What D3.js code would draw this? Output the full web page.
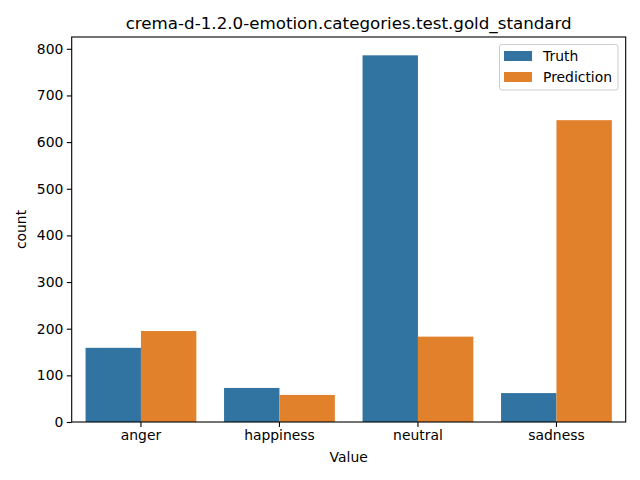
<!DOCTYPE html>
<html><head><meta charset="utf-8">
<script src="https://cdn.jsdelivr.net/npm/d3@7"></script>
<style>body{margin:0;background:#fff}svg{display:block;font-family:"DejaVu Sans",sans-serif}</style>
</head><body><svg id="c" width="640" height="480"></svg>
<script>
const categories = ["anger","happiness","neutral","sadness"];
const seriesNames = ["Truth","Prediction"];
const truthValues = [159, 73, 786, 62];
const predictionValues = [195, 58, 183, 647];
const yTicks = [0,100,200,300,400,500,600,700,800];
const colors = ["#3274a1","#e1812c"];

const svg = d3.select("#c");
const L=71.7, R=625.7, T=37, B=422;
const x = d3.scaleBand().domain(categories).range([L,R]).paddingInner(0).paddingOuter(0);
const xs = d3.scaleBand().domain(seriesNames).range([0.1*x.bandwidth(),0.9*x.bandwidth()]);
const maxV = d3.max([...truthValues,...predictionValues]);
const y = d3.scaleLinear().domain([0, maxV*1.05]).range([B,T]);

const data = [truthValues, predictionValues];
seriesNames.forEach((s,si)=>{
  svg.append("g").selectAll("rect").data(categories).join("rect")
    .attr("x",c=>x(c)+xs(s)).attr("width",xs.bandwidth())
    .attr("y",(c,i)=>y(data[si][i])).attr("height",(c,i)=>B-y(data[si][i]))
    .attr("fill",colors[si]);
});

const fs = 13.9;
const xa = svg.append("g").attr("transform",`translate(0,${B})`)
  .call(d3.axisBottom(x).tickSize(4.9).tickPadding(3.5).tickSizeOuter(0));
const ya = svg.append("g").attr("transform",`translate(${L},0)`)
  .call(d3.axisLeft(y).tickValues(yTicks).tickSize(4.9).tickPadding(3.5).tickSizeOuter(0));
[xa,ya].forEach(a=>{
  a.select(".domain").remove();
  a.selectAll("line").attr("stroke","#000").attr("stroke-width",1.1);
  a.selectAll("text").attr("font-size",fs).attr("fill","#000").attr("font-family","DejaVu Sans");
});
svg.append("rect").attr("x",L).attr("y",T).attr("width",R-L).attr("height",B-T)
  .attr("fill","none").attr("stroke","#000").attr("stroke-width",1.1);

svg.append("text").attr("x",(L+R)/2).attr("y",29).attr("text-anchor","middle")
  .attr("font-size",16.7).text("crema-d-1.2.0-emotion.categories.test.gold_standard");
svg.append("text").attr("x",(L+R)/2).attr("y",462).attr("text-anchor","middle")
  .attr("font-size",fs).text("Value");
svg.append("text").attr("transform",`translate(26,${(T+B)/2}) rotate(-90)`).attr("text-anchor","middle")
  .attr("font-size",fs).text("count");

const lg = svg.append("g");
lg.append("rect").attr("x",499.5).attr("y",44.5).attr("width",118.5).attr("height",45.5).attr("rx",2.5)
  .attr("fill","#fff").attr("fill-opacity",0.8).attr("stroke","#cccccc").attr("stroke-width",1);
seriesNames.forEach((s,i)=>{
  lg.append("rect").attr("x",504).attr("y",51+i*21).attr("width",28).attr("height",10).attr("fill",colors[i]);
  lg.append("text").attr("x",543).attr("y",61+i*21).attr("font-size",fs).text(s);
});
</script></body></html>
